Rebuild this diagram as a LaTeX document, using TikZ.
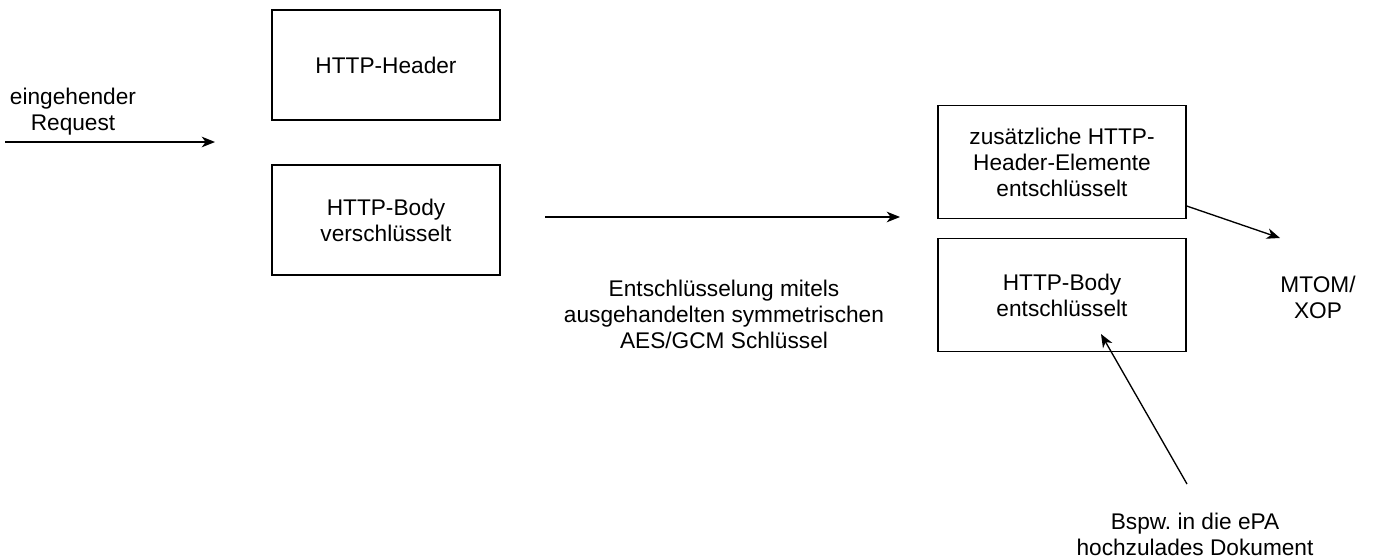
\documentclass[tikz,border=0pt]{standalone}
\usepackage{fontspec}
\setmainfont{Liberation Sans}
\usepackage{tikz}
\usetikzlibrary{arrows.meta}
\frenchspacing

\begin{document}
\begin{tikzpicture}[x=0.75pt,y=-0.75pt,
  every node/.style={font=\fontsize{17}{19.5}\selectfont,align=center},
  box/.style={draw,line width=1pt,minimum width=171pt,minimum height=82.5pt,inner sep=0pt},
  widebox/.style={box,minimum width=186pt,minimum height=85pt},
  arr/.style={-{Stealth[length=10pt,width=8pt,inset=3pt]},line width=1pt}]
\useasboundingbox (0,0) rectangle (1375,560);
% linke Seite
\node[box] (header) at (386,65) {HTTP-Header};
\node[box] (body) at (386,220) {HTTP-Body\\verschl\"usselt};
\coordinate (inA) at (5,142);
\coordinate (inB) at (215,142);
\draw[arr] (inA) -- (inB);
\node (inlabel) at (73,112) {eingehender\\Request};
% Entschluesselung
\coordinate (midA) at (545,217);
\coordinate (midB) at (900,217);
\draw[arr] (midA) -- (midB);
\node (midlabel) at (724,314) {Entschl\"usselung mitels\\ausgehandelten symmetrischen\\AES/GCM Schl\"ussel};
% rechte Seite
\node[widebox] (extra) at (1062,162) {zus\"atzliche HTTP-\\Header-Elemente\\entschl\"usselt};
\node[widebox] (plain) at (1062,295) {HTTP-Body\\entschl\"usselt};
\node (mtom) at (1318,297) {MTOM/\\XOP};
\coordinate (mtomtip) at (1280,238);
\draw[arr] (extra.east |- 0,206) -- (mtomtip);
\node (doc) at (1195,534) {Bspw. in die ePA\\hochzulades Dokument};
\coordinate (docA) at (1187,484);
\coordinate (docB) at (1101,334);
\draw[arr] (docA) -- (docB);
\end{tikzpicture}
\end{document}
